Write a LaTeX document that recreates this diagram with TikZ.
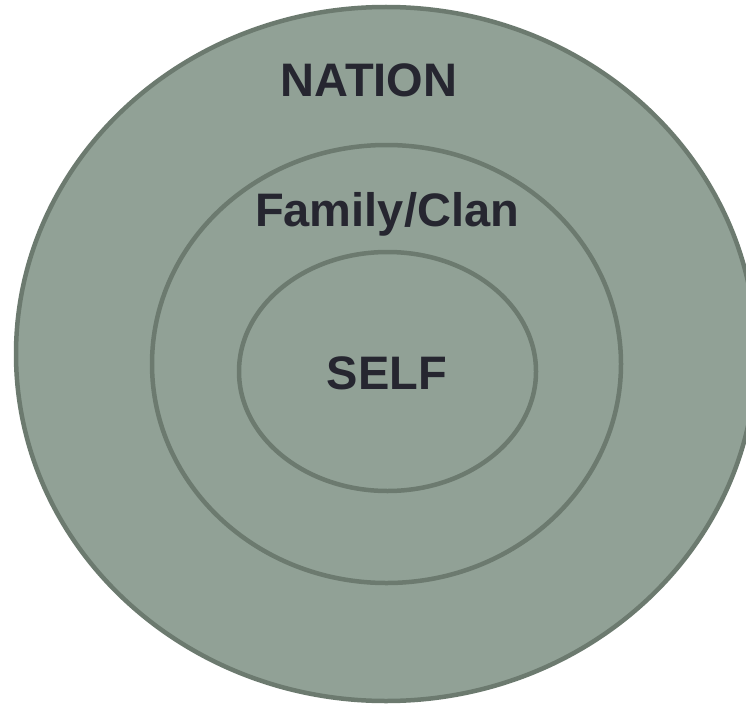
\documentclass[tikz,border=0pt]{standalone}
\usepackage{fontspec}
\setmainfont{Liberation Sans}
\usepackage{tikz}
\usetikzlibrary{positioning}

\definecolor{ringfill}{RGB}{145,161,150}
\definecolor{ringline}{RGB}{108,122,111}
\definecolor{ringtext}{RGB}{38,38,48}

\begin{document}
\begin{tikzpicture}[x=1pt, y=-1pt,
    ring/.style={draw=ringline, fill=ringfill, line width=4.5pt},
    label/.style={anchor=base, text=ringtext, inner sep=0pt, font=\bfseries\fontsize{47}{56}\selectfont}]
    \fill[white] (0,0) rectangle (746,706);
    \useasboundingbox (0,0) rectangle (746,706);
    \clip (0,0) rectangle (746,706);
    % rings
    \draw[ring] (386,354) ellipse [x radius=370pt, y radius=347pt];
    \draw[ring] (386.5,364) ellipse [x radius=234.5pt, y radius=219pt];
    \draw[ring] (387.5,371.5) ellipse [x radius=148.5pt, y radius=119.5pt];
    % labels
    \node[label] (nation) at (369,97) {NATION};
    \node[label] (family) at (387,226) {Family/Clan};
    \node[label] (self) at (387,389) {SELF};
\end{tikzpicture}
\end{document}
